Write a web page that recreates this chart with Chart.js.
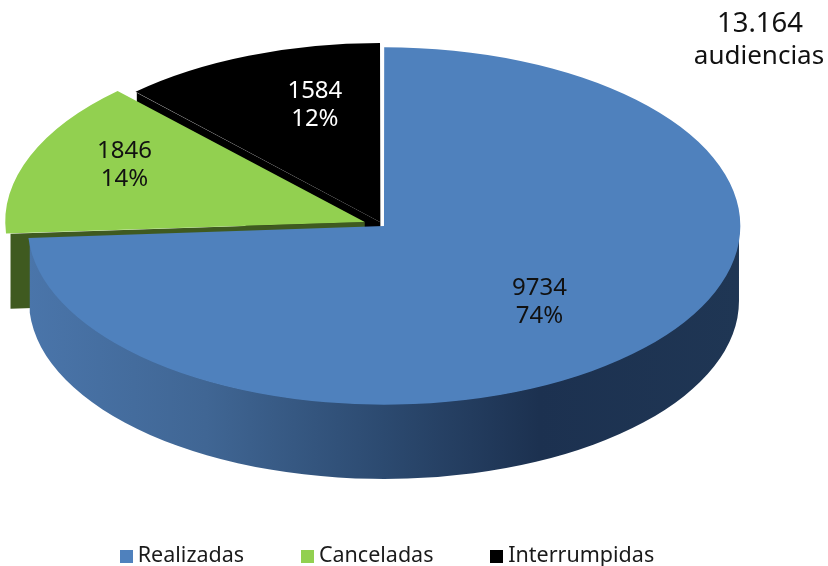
<!DOCTYPE html>
<html><head><meta charset="utf-8">
<style>html,body{margin:0;padding:0;background:#fff}#w{width:828px;height:566px;position:relative}</style>
<script src="https://cdn.jsdelivr.net/npm/chart.js@4"></script>
</head><body><div id="w"><canvas id="c" width="828" height="566"></canvas></div>
<script>
const categories = ['Realizadas','Canceladas','Interrumpidas'];
const audiencias = [9734,1846,1584];
const colors = ['#4f81bd','#92d050','#000000'];
const wallColors = [null,'#3f5a20','#000000'];
const labelColors = ['#111111','#111111','#ffffff'];
const explode = [3.3,48,17.4];
const titleLines = ['13.164','audiencias'];
const labelFracX = [0.6,0.727,0.5];
const labelFracY = [0.625,0.875,0.71];
const FONT = '"Noto Sans"';
const PIE = {cx:383,cy:225.5,rx:355,ry:178,depth:75};

function geom(chart){
  const meta = chart.getDatasetMeta(0);
  const R = meta.data[0].outerRadius;
  const sx = PIE.rx/R, sy = PIE.ry/R;
  return meta.data.map(el=>{
    const off = (el.options.offset||0)/4, mid=(el.startAngle+el.endAngle)/2;
    return {a0:el.startAngle,a1:el.endAngle,mid,
      x:PIE.cx+off*Math.cos(mid)*sx, y:PIE.cy+off*Math.sin(mid)*sy};
  });
}
function quad(ctx,g,t,col){
  const ex=g.x+PIE.rx*Math.cos(t), ey=g.y+PIE.ry*Math.sin(t);
  ctx.fillStyle=col; ctx.beginPath();
  ctx.moveTo(g.x,g.y); ctx.lineTo(ex,ey); ctx.lineTo(ex,ey+PIE.depth); ctx.lineTo(g.x,g.y+PIE.depth);
  ctx.closePath(); ctx.fill();
}
function swatch(col){
  const s=document.createElement('canvas'); s.width=13; s.height=13;
  const x=s.getContext('2d'); x.fillStyle=col; x.fillRect(0,0,13,13);
  return s;
}
const pie3d = {
  id:'pie3d',
  beforeDatasetsDraw(chart){
    const ctx=chart.ctx, G=geom(chart);
    ctx.save();
    quad(ctx,G[2],G[2].a0,wallColors[2]);
    quad(ctx,G[1],G[1].a0,wallColors[1]);
    const b=G[0];
    const grad=ctx.createLinearGradient(PIE.cx-PIE.rx,0,PIE.cx+PIE.rx,0);
    grad.addColorStop(0,'#4a75aa'); grad.addColorStop(0.25,'#406694');
    grad.addColorStop(0.5,'#2c4a70'); grad.addColorStop(0.72,'#1c3150'); grad.addColorStop(1,'#1f3654');
    ctx.fillStyle=grad; ctx.beginPath();
    ctx.ellipse(b.x,b.y,PIE.rx,PIE.ry,0,0,b.a1,false);
    ctx.ellipse(b.x,b.y+PIE.depth,PIE.rx,PIE.ry,0,b.a1,0,true);
    ctx.closePath(); ctx.fill();
    ctx.restore();
    const R=chart.getDatasetMeta(0).data[0];
    ctx.save();
    ctx.translate(PIE.cx,PIE.cy);
    ctx.scale(PIE.rx/R.outerRadius,PIE.ry/R.outerRadius);
    ctx.translate(-R.x,-R.y);
  },
  afterDatasetsDraw(chart){
    const ctx=chart.ctx; ctx.restore();
    const G=geom(chart), total=audiencias.reduce((a,b)=>a+b,0);
    ctx.save(); ctx.textAlign='center'; ctx.textBaseline='middle';
    ctx.font='24px '+FONT;
    G.forEach((g,i)=>{
      const lx=g.x+Math.cos(g.mid)*PIE.rx*labelFracX[i], ly=g.y+Math.sin(g.mid)*PIE.ry*labelFracY[i];
      ctx.fillStyle=labelColors[i];
      ctx.fillText(String(audiencias[i]),lx,ly-14);
      ctx.fillText(Math.round(audiencias[i]/total*100)+'%',lx,ly+14);
    });
    ctx.fillStyle='#111111'; ctx.font='27.5px '+FONT;
    ctx.fillText(titleLines[0],760,24);
    ctx.font='26px '+FONT;
    ctx.fillText(titleLines[1],759,57);
    ctx.restore();
  }
};
new Chart(document.getElementById('c'),{
  type:'pie',
  data:{labels:categories,datasets:[{data:audiencias,backgroundColor:colors,borderWidth:0,offset:explode,clip:false}]},
  options:{responsive:false,animation:false,
    layout:{padding:{left:63,bottom:-11}},
    plugins:{tooltip:{enabled:false},
      legend:{position:'bottom',align:'start',
        labels:{usePointStyle:true,pointStyleWidth:1,boxHeight:13,padding:63,color:'#1a1a1a',font:{family:FONT,size:21.5},
          generateLabels(chart){
            return Chart.overrides.pie.plugins.legend.labels.generateLabels(chart).map((it,i)=>Object.assign(it,{pointStyle:swatch(colors[i])}));
          }}}}},
  plugins:[pie3d]
});
</script></body></html>
